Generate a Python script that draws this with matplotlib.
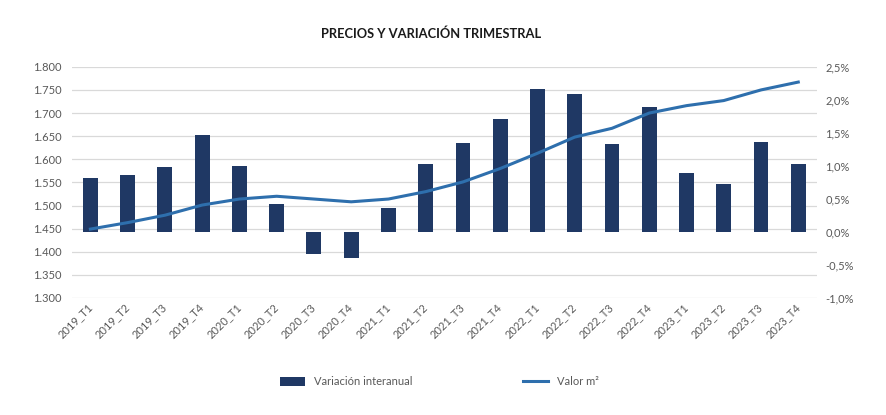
import numpy as np
import matplotlib.pyplot as plt
from matplotlib.ticker import FuncFormatter

quarters = ["2019_T1", "2019_T2", "2019_T3", "2019_T4",
            "2020_T1", "2020_T2", "2020_T3", "2020_T4",
            "2021_T1", "2021_T2", "2021_T3", "2021_T4",
            "2022_T1", "2022_T2", "2022_T3", "2022_T4",
            "2023_T1", "2023_T2", "2023_T3", "2023_T4"]
# interannual variation (%), right axis
variacion = [0.82, 0.86, 0.99, 1.47, 1.00, 0.43, -0.33, -0.39, 0.36, 1.03,
             1.34, 1.71, 2.17, 2.09, 1.33, 1.89, 0.89, 0.72, 1.36, 1.03]
# price per m2, left axis
valor_m2 = [1449, 1463, 1479, 1501, 1514, 1520, 1514, 1508, 1514, 1530,
            1551, 1580, 1613, 1648, 1667, 1700, 1716, 1727, 1750, 1767]

BAR_COLOR = "#1f3864"
LINE_COLOR = "#2e6fad"
TXT = "#595959"

plt.rcParams['font.family'] = ["Lato", "DejaVu Sans"]

fig = plt.figure(figsize=(8.86, 4.15), dpi=100)
ax = fig.add_axes([0.081, 0.282, 0.841, 0.557])
ax2 = ax.twinx()

x = np.arange(len(quarters))

ax.set_ylim(1300, 1800)
ax.set_yticks(np.arange(1300, 1801, 50))
ax.yaxis.set_major_formatter(FuncFormatter(lambda v, p: f"{v:,.0f}".replace(",", ".")))
ax.grid(True, axis='y', color="#d9d9d9", linewidth=0.9)
ax.set_axisbelow(True)

ax2.set_ylim(-1.0, 2.5)
ax2.set_yticks(np.arange(-1.0, 2.51, 0.5))
ax2.yaxis.set_major_formatter(FuncFormatter(lambda v, p: f"{v:.1f}%".replace(".", ",")))

bars = ax2.bar(x, variacion, width=0.4, color=BAR_COLOR, zorder=2,
               label="Variación interanual")

# price line on its own axis so it sits above the bars
ax_line = ax.twinx()
ax_line.set_ylim(1300, 1800)
ax_line.axis('off')
ln, = ax_line.plot(x, valor_m2, color=LINE_COLOR, linewidth=2.2,
                   label="Valor m²", zorder=3)

ax.set_xlim(-0.5, len(quarters) - 0.5)
ax.set_xticks(x)
ax.set_xticklabels(quarters, rotation=45, ha='right', va='center',
                   rotation_mode='anchor')

for a in (ax, ax2, ax_line):
    for s in a.spines.values():
        s.set_visible(False)
    a.tick_params(length=0, labelsize=8, colors=TXT)
ax.tick_params(axis='y', pad=7)
ax2.tick_params(axis='y', pad=6)
ax.tick_params(axis='x', pad=5, labelsize=8)

fig.text(0.487, 0.918, "PRECIOS Y VARIACIÓN TRIMESTRAL", ha='center', va='center',
         fontsize=9.3, fontweight='bold', color="#1a1a1a")

fig.legend(handles=[bars, ln], loc='center', bbox_to_anchor=(0.496, 0.08), ncol=2,
           frameon=False, fontsize=8, columnspacing=10, handlelength=2.2,
           handleheight=0.9, handletextpad=0.8, labelcolor=TXT)

fig.savefig("out.png", dpi=100)
